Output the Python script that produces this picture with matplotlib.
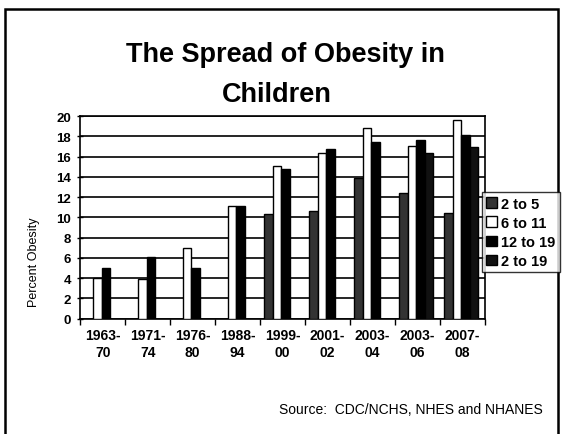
import numpy as np
import matplotlib
matplotlib.use("Agg")
import matplotlib.pyplot as plt
from matplotlib.patches import Rectangle

plt.rcParams['font.family'] = ['Liberation Sans', 'DejaVu Sans']

# Survey periods and obesity percentages
periods = ['1963-\n70', '1971-\n74', '1976-\n80', '1988-\n94', '1999-\n00',
           '2001-\n02', '2003-\n04', '2003-\n06', '2007-\n08']
age_2_5 = [np.nan, np.nan, np.nan, np.nan, 10.3, 10.6, 13.9, 12.4, 10.4]
age_6_11 = [4.0, 3.9, 7.0, 11.1, 15.1, 16.3, 18.8, 17.0, 19.6]
age_12_19 = [5.0, 6.1, 5.0, 11.1, 14.8, 16.7, 17.4, 17.6, 18.1]
age_2_19 = [np.nan, np.nan, np.nan, np.nan, np.nan, np.nan, np.nan, 16.3, 16.9]

series = [('2 to 5', age_2_5, '#333333'),
          ('6 to 11', age_6_11, 'white'),
          ('12 to 19', age_12_19, 'black'),
          ('2 to 19', age_2_19, '#111111')]

fig = plt.figure(figsize=(5.65, 4.35), dpi=100)
ax = fig.add_axes([0.142, 0.2655, 0.716, 0.4655])

x = np.arange(len(periods))
width = 0.19
offsets = [-0.31, -0.12, 0.07, 0.26]
for (label, vals, color), off in zip(series, offsets):
    ax.bar(x + off, vals, width, color=color, edgecolor='black',
           linewidth=1, label=label, zorder=3)

# Axes styling
ax.set_xlim(-0.5, len(periods) - 0.5)
ax.set_ylim(0, 20)
ax.set_yticks(np.arange(0, 21, 2))
ax.yaxis.grid(True, color='black', linewidth=1.2, zorder=0)
ax.set_xticks(x)
ax.set_xticklabels(periods, fontsize=10, fontweight='bold', linespacing=1.25)
ax.set_xticks(np.arange(-0.5, len(periods)), minor=True)
ax.tick_params(axis='x', which='major', length=0, pad=7)
ax.tick_params(axis='x', which='minor', length=4, width=1, direction='out')
ax.tick_params(axis='y', length=5, width=1, direction='inout', pad=4)
for lab in ax.get_yticklabels():
    lab.set_fontsize(9.5)
    lab.set_fontweight('bold')
for sp in ax.spines.values():
    sp.set_linewidth(1.2)
    sp.set_color('black')

fig.text(0.06, 0.398, 'Percent Obesity', rotation=90, fontsize=9,
         ha='center', va='center')

# Title
fig.text(0.505, 0.874, 'The Spread of Obesity in', fontsize=19.5,
         fontweight='bold', ha='center', va='center')
fig.text(0.49, 0.782, 'Children', fontsize=19.5, fontweight='bold',
         ha='center', va='center')

# Legend
leg = fig.legend(loc='upper left', bbox_to_anchor=(0.853, 0.556),
                 frameon=True, fancybox=False, borderaxespad=0,
                 handlelength=0.7, handleheight=0.7, handletextpad=0.3,
                 borderpad=0.3, labelspacing=0.35,
                 prop={'size': 10.5, 'weight': 'bold'})
leg.get_frame().set_edgecolor('black')
leg.get_frame().set_linewidth(1)
leg.set_zorder(5)

# Source note
fig.text(0.961, 0.058, 'Source:  CDC/NCHS, NHES and NHANES', fontsize=10,
         ha='right', va='center')

# Outer slide frame
fig.patches.append(Rectangle((5 / 565, -0.1), 553 / 565, 0.1 + 0.977,
                             transform=fig.transFigure, fill=False,
                             edgecolor='black', linewidth=1.8))

fig.savefig('out.png', dpi=100)
